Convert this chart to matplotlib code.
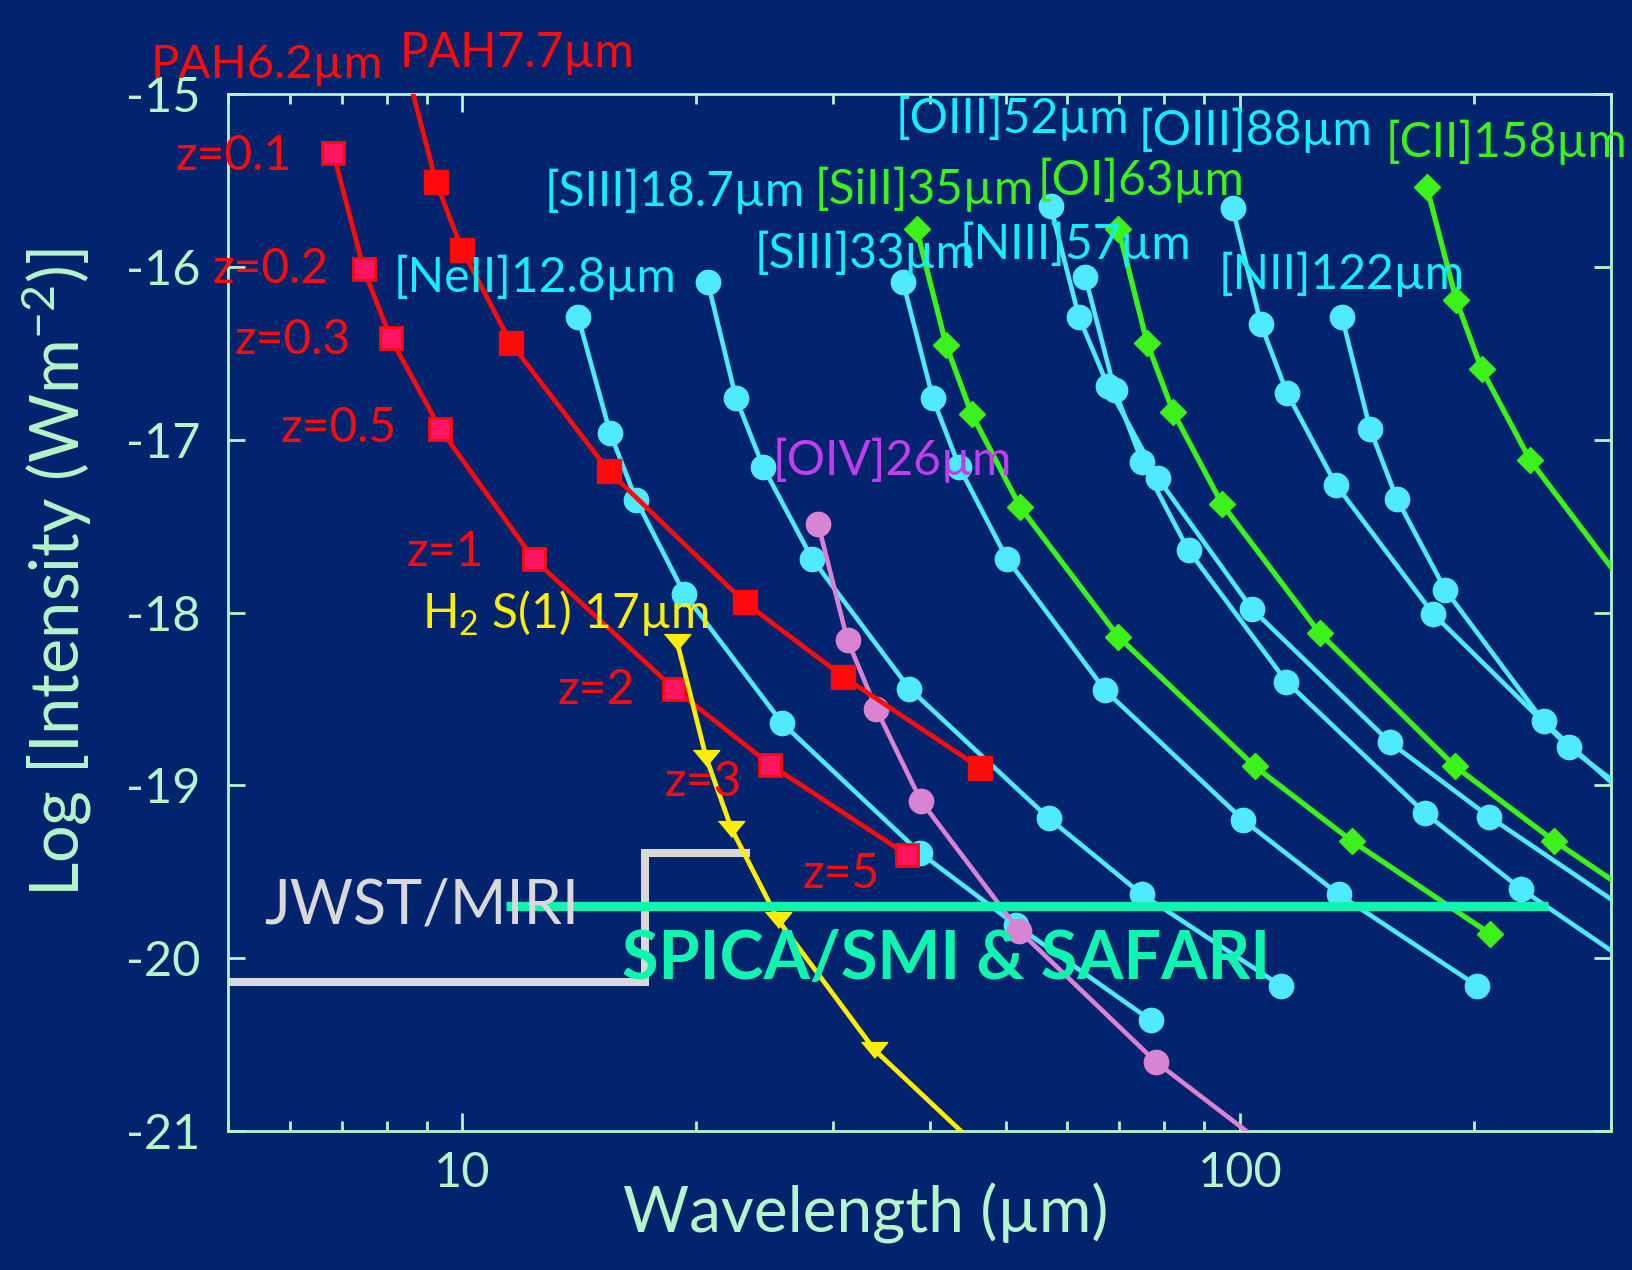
import matplotlib
matplotlib.use("Agg")
import matplotlib.pyplot as plt
from matplotlib.ticker import NullFormatter

plt.rcParams['font.family'] = ['Lato', 'DejaVu Sans']
plt.rcParams['mathtext.fontset'] = 'custom'
plt.rcParams['mathtext.rm'] = 'Lato'
plt.rcParams['mathtext.it'] = 'Lato:italic'
plt.rcParams['mathtext.bf'] = 'Lato:bold'

# observed wavelength (um) and log line intensity for z = 0.1, 0.2, 0.3, 0.5, 1, 2, 3, 5
pah62_x = [6.83, 7.47, 8.09, 9.38, 12.36, 18.73, 24.9, 37.3]
pah62_y = [-15.34, -16.01, -16.41, -16.94, -17.69, -18.44, -18.88, -19.40]
pah77_x = [8.47, 9.26, 10.0, 11.55, 15.43, 23.08, 30.9, 46.4]
pah77_y = [-14.84, -15.51, -15.90, -16.44, -17.18, -17.94, -18.37, -18.90]
h2_x = [18.9, 20.6, 22.2, 25.5, 33.9, 51.0]
h2_y = [-18.17, -18.84, -19.25, -19.78, -20.53, -21.28]
oiv_x = [28.7, 31.3, 34.1, 38.9, 52.0, 78.0, 104.0]
oiv_y = [-17.49, -18.16, -18.56, -19.09, -19.84, -20.60, -21.03]

neii_x = [14.1, 15.5, 16.75, 19.3, 25.8, 38.8, 51.6, 76.9]
neii_y = [-16.29, -16.96, -17.35, -17.89, -18.64, -19.39, -19.81, -20.36]
siii18_x = [20.7, 22.5, 24.4, 28.2, 37.6, 56.8, 74.8, 113.0]
siii18_y = [-16.09, -16.76, -17.16, -17.69, -18.44, -19.19, -19.63, -20.16]
siii33_x = [36.9, 40.3, 43.6, 50.2, 67.1, 101.0, 134.0, 202.0]
siii33_y = [-16.09, -16.76, -17.16, -17.69, -18.45, -19.20, -19.63, -20.16]
oiii52_x = [57.1, 62.1, 67.7, 78.4, 103.7, 155.9, 209.0, 312.0]
oiii52_y = [-15.65, -16.29, -16.69, -17.22, -17.98, -18.75, -19.18, -19.71]
niii57_x = [63.3, 69.0, 74.9, 85.9, 114.8, 173.0, 230.0, 342.0]
niii57_y = [-16.06, -16.71, -17.13, -17.64, -18.40, -19.16, -19.60, -20.13]
oiii88_x = [97.9, 106.4, 115.0, 132.9, 177.4, 265.0, 352.0]
oiii88_y = [-15.66, -16.33, -16.73, -17.26, -18.01, -18.78, -19.20]
nii122_x = [135.3, 147.1, 159.1, 183.8, 245.7, 366.0]
nii122_y = [-16.29, -16.94, -17.34, -17.87, -18.63, -19.33]

siii35_x = [38.4, 41.9, 45.2, 52.2, 69.8, 104.5, 139.2, 210.0]
siii35_y = [-15.78, -16.45, -16.85, -17.39, -18.14, -18.89, -19.32, -19.86]
oi63_x = [69.8, 76.0, 82.1, 94.8, 126.7, 189.1, 253.4, 378.0]
oi63_y = [-15.78, -16.44, -16.84, -17.37, -18.12, -18.89, -19.32, -19.85]
cii158_x = [174.0, 189.7, 204.5, 236.3, 316.0]
cii158_y = [-15.54, -16.19, -16.59, -17.12, -17.87]

# sensitivity limits
spica_x = [11.4, 249.0]
spica_y = [-19.70, -19.70]
miri_x = [5.08, 17.2, 17.2, 23.2]
miri_y = [-20.135, -20.135, -19.39, -19.39]

xticks = [10, 100]
yticks = [-21, -20, -19, -18, -17, -16, -15]

bg = '#02246e'
axcol = '#b4f5c9'
red = '#ff0a0a'
pink = '#ff1462'
cyan = '#50eaff'
cyan_txt = '#14eef4'
green = '#3cf21a'
yellow = '#ffee00'
orchid = '#d984d2'
spica_col = '#0ef5b0'
gray = '#d9d9d9'

fig = plt.figure(figsize=(16.33, 12.70), dpi=100, facecolor=bg)
ax = fig.add_axes([0.1396, 0.1094, 0.8469, 0.8165])
ax.set_facecolor(bg)
ax.set_xscale('log')

ax.plot(miri_x, miri_y, color=gray, lw=5.8, solid_joinstyle='miter', zorder=2)

for xs, ys in [(neii_x, neii_y), (siii18_x, siii18_y), (siii33_x, siii33_y),
               (oiii52_x, oiii52_y), (niii57_x, niii57_y), (oiii88_x, oiii88_y),
               (nii122_x, nii122_y)]:
    ax.plot(xs, ys, color=cyan, lw=3.3, marker='o', ms=17.5, mec=cyan, zorder=3)

for xs, ys in [(siii35_x, siii35_y), (oi63_x, oi63_y), (cii158_x, cii158_y)]:
    ax.plot(xs, ys, color=green, lw=3.8, marker='D', ms=13.5, mec=green, zorder=3)

# last [OIV] point lies below the frame, only its line shows
ax.plot(oiv_x, oiv_y, color=orchid, lw=3.3, marker='o', ms=17.5, mec=orchid,
        markevery=list(range(len(oiv_x) - 1)), zorder=3)
ax.plot(pah77_x, pah77_y, color=red, lw=3.4, marker='s', ms=17, mec=red, zorder=3)
ax.plot(pah62_x, pah62_y, color=red, lw=3.4, marker='s', ms=16, mfc=pink, mec=red,
        mew=2, zorder=3)
tri = [(-1, 0.6), (1, 0.6), (0, -0.6)]
ax.plot(h2_x, h2_y, color=yellow, lw=3.4, marker=tri, ms=19, mec=yellow, zorder=3)

ax.plot(spica_x, spica_y, color=spica_col, lw=6.7, solid_capstyle='butt', zorder=4)

ax.set_xlim(5, 300)
ax.set_ylim(-21, -15)
ax.set_xticks(xticks, [str(t) for t in xticks])
ax.xaxis.set_minor_formatter(NullFormatter())
ax.set_yticks(yticks, [str(t) for t in yticks])

ax.tick_params(which='both', direction='in', top=True, right=True,
               colors=axcol, width=2, labelsize=35)
ax.tick_params(axis='x', which='major', length=13, pad=14)
ax.tick_params(axis='x', which='minor', length=7)
ax.tick_params(axis='y', which='major', length=12, pad=20)
for s in ax.spines.values():
    s.set_color(axcol)
    s.set_linewidth(2)

ax.set_xlabel('Wavelength (µm)', color=axcol, fontsize=46)
ax.xaxis.set_label_coords(0.461, -0.05)
ax.set_ylabel('Log [Intensity (Wm$^{-2}$)]', color=axcol, fontsize=48)
ax.yaxis.set_label_coords(-0.097, 0.538)

fs = 34.5
kw = dict(fontsize=fs, va='center', zorder=6)
ax.text(3.98, -14.83, 'PAH6.2µm', color=red, fontsize=34, va='center', zorder=6)
ax.text(8.3, -14.76, 'PAH7.7µm', color=red, **kw)
ax.text(6.04, -15.36, 'z=0.1', color=red, ha='right', **kw)
ax.text(6.73, -16.01, 'z=0.2', color=red, ha='right', **kw)
ax.text(7.18, -16.42, 'z=0.3', color=red, ha='right', **kw)
ax.text(8.24, -16.93, 'z=0.5', color=red, ha='right', **kw)
ax.text(10.67, -17.65, 'z=1', color=red, ha='right', **kw)
ax.text(16.66, -18.45, 'z=2', color=red, ha='right', **kw)
ax.text(22.86, -18.98, 'z=3', color=red, ha='right', **kw)
ax.text(34.4, -19.51, 'z=5', color=red, ha='right', **kw)
ax.text(8.87, -18.0, 'H$_2$ S(1) 17µm', color=yellow, **kw)
ax.text(8.16, -16.06, '[NeII]12.8µm', color=cyan_txt, **kw)
ax.text(12.75, -15.56, '[SIII]18.7µm', color=cyan_txt, **kw)
ax.text(23.8, -15.92, '[SIII]33µm', color=cyan_txt, **kw)
ax.text(25.07, -17.12, '[OIV]26µm', color='#c03ef0', **kw)
ax.text(28.36, -15.55, '[SiII]35µm', color=green, **kw)
ax.text(36.04, -15.14, '[OIII]52µm', color=cyan_txt, **kw)
ax.text(43.6, -15.87, '[NIII]57µm', color=cyan_txt, **kw)
ax.text(54.9, -15.50, '[OI]63µm', color=green, **kw)
ax.text(74.2, -15.21, '[OIII]88µm', color=cyan_txt, **kw)
ax.text(94.0, -16.04, '[NII]122µm', color=cyan_txt, **kw)
ax.text(153.8, -15.28, '[CII]158µm', color=green, **kw)
ax.text(5.56, -19.70, 'JWST/MIRI', color=gray, fontsize=44, va='center', zorder=6)
ax.text(16.06, -20.01, 'SPICA/SMI & SAFARI', color=spica_col, fontsize=48,
        fontweight='bold', va='center', zorder=6)

fig.savefig('out.png', dpi=100, facecolor=bg)
